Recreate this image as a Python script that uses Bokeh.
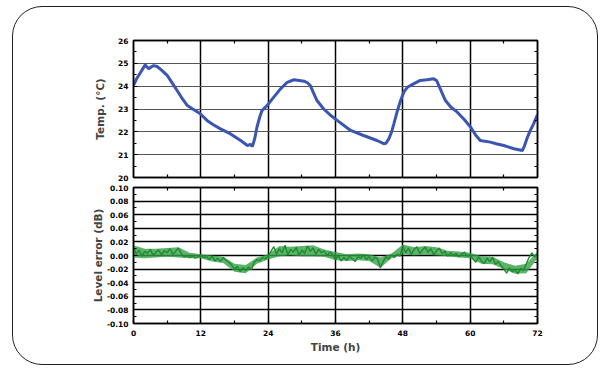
from bokeh.plotting import figure
from bokeh.layouts import column
from bokeh.models import FixedTicker, LinearAxis, PrintfTickFormatter, Range1d
from bokeh.embed import file_html
from bokeh.resources import INLINE

# ---------------- data ----------------
temp_time = [0, 0.5, 1.0, 1.5, 2.1, 2.7, 3.2, 3.6, 4.2, 5.0, 6.0, 7.0, 7.8, 8.7, 9.6,
             10.7, 11.9, 13.1, 14.3, 15.5, 17.3, 19.1, 20.3, 20.8, 21.2, 21.6, 22.0,
             22.5, 22.9, 23.8, 25.0, 26.2, 27.4, 28.6, 29.5, 30.4, 31.0, 31.5, 32.1,
             32.7, 33.9, 35.0, 36.3, 38.7, 41.0, 43.4, 44.6, 45.0, 45.5, 46.0, 46.4,
             47.0, 47.6, 48.2, 48.8, 49.9, 51.1, 52.3, 53.5, 54.0, 54.4, 55.0, 55.6,
             56.5, 57.7, 58.9, 60.1, 61.0, 61.8, 63.6, 64.8, 66.0, 67.8, 69.3, 69.7,
             70.2, 70.7, 71.3, 72.0]
temp_value = [24.03, 24.3, 24.5, 24.7, 24.93, 24.76, 24.85, 24.9, 24.86, 24.7, 24.47,
              24.1, 23.8, 23.45, 23.15, 22.98, 22.79, 22.5, 22.3, 22.13, 21.91, 21.62,
              21.4, 21.45, 21.36, 21.7, 22.2, 22.65, 22.93, 23.15, 23.52, 23.88, 24.17,
              24.28, 24.25, 24.22, 24.15, 24.03, 23.7, 23.37, 23.0, 22.75, 22.5, 22.06,
              21.84, 21.62, 21.48, 21.5, 21.69, 22.0, 22.35, 22.9, 23.37, 23.75, 23.95,
              24.1, 24.25, 24.28, 24.32, 24.25, 24.03, 23.7, 23.37, 23.1, 22.86, 22.55,
              22.2, 21.85, 21.62, 21.55, 21.47, 21.4, 21.26, 21.18, 21.4, 21.76, 22.05,
              22.35, 22.75]

err_time = [i * 0.5 for i in range(145)]
err_value = [
    0.012, 0.002, 0.008, -0.001, 0.006, 0.003, 0.009, 0.000, 0.005, 0.008, 0.001,
    0.007, 0.004, 0.010, 0.002, 0.006, 0.011,
    0.003, -0.002, 0.000, -0.003, -0.001, -0.004, -0.002, 0.000, -0.003, -0.002,
    -0.006, -0.001, -0.008, -0.004, -0.009, -0.003, -0.007, -0.010,
    -0.014, -0.020, -0.016, -0.024, -0.018, -0.022, -0.017, -0.021,
    -0.010, -0.006, -0.008, -0.003, -0.005, -0.001,
    0.006, 0.013, 0.002, 0.010, 0.004, 0.015, 0.001, 0.009, 0.005, 0.012, 0.000,
    0.008, 0.003, 0.014, 0.006, 0.011, 0.002, 0.009, 0.004, 0.007, 0.000, 0.005, 0.001,
    -0.006, 0.000, -0.008, -0.003, -0.007, -0.001, -0.005, -0.009, -0.002,
    -0.004, 0.001, -0.006, -0.002, -0.008, -0.003, -0.005, -0.018,
    -0.009, -0.002, -0.005, 0.001, -0.003, 0.002, -0.001,
    0.014, 0.004, 0.011, 0.002, 0.009, 0.013, 0.003, 0.008, 0.012, 0.005, 0.010,
    0.001, 0.007, 0.011, 0.003,
    0.006, -0.001, 0.004, 0.000, 0.003, -0.002, 0.002, 0.005, -0.001, 0.001,
    -0.005, -0.010, -0.002, -0.008, -0.012, -0.004, -0.009, -0.003,
    -0.013, -0.009, -0.015,
    -0.020, -0.026, -0.018, -0.024, -0.021, -0.027, -0.019, -0.022,
    -0.012, -0.003, 0.004, -0.002, 0.003,
]

# envelope of the noisy trace, every 2 h
band_time = [0, 2, 4, 6, 8, 10, 12, 14, 16, 18, 20, 22, 24, 26, 28, 30, 32, 34, 36,
             38, 40, 42, 44, 46, 48, 50, 52, 54, 56, 58, 60, 62, 64, 66, 68, 70, 72]
band_high = [0.015, 0.010, 0.010, 0.011, 0.012, 0.004, 0.002, 0.000, -0.002, -0.012,
             -0.014, -0.003, 0.002, 0.014, 0.013, 0.014, 0.015, 0.009, 0.005, 0.002,
             0.003, 0.002, -0.003, 0.003, 0.016, 0.012, 0.014, 0.012, 0.007, 0.006,
             0.004, -0.001, -0.002, -0.010, -0.015, -0.012, 0.006]
band_low = [-0.003, -0.004, -0.003, -0.002, -0.003, -0.004, -0.004, -0.009, -0.011,
            -0.024, -0.026, -0.012, -0.006, -0.001, 0.000, -0.001, -0.001, -0.002,
            -0.007, -0.008, -0.007, -0.008, -0.018, -0.004, 0.002, 0.000, 0.001, 0.000,
            -0.001, -0.003, -0.004, -0.012, -0.013, -0.020, -0.027, -0.026, -0.004]

x_ticks = [0, 12, 24, 36, 48, 60, 72]
x_minor = [6, 18, 30, 42, 54, 66]
temp_ticks = [20, 21, 22, 23, 24, 25, 26]
temp_minor = [20.5, 21.5, 22.5, 23.5, 24.5, 25.5]
err_ticks = [-0.10, -0.08, -0.06, -0.04, -0.02, 0.0, 0.02, 0.04, 0.06, 0.08, 0.10]
err_minor = [-0.09, -0.07, -0.05, -0.03, -0.01, 0.01, 0.03, 0.05, 0.07, 0.09]

FONT = "DejaVu Sans"
BLUE = "#3b55b3"
GREEN = "#34a045"
GREEN_DARK = "#1e8a32"


def style_axis(ax, show_labels):
    ax.axis_line_color = "black"
    ax.axis_line_width = 1.5
    ax.major_tick_in = 4
    ax.major_tick_out = 0
    ax.minor_tick_in = 3
    ax.minor_tick_out = 0
    ax.major_tick_line_color = "black"
    ax.minor_tick_line_color = "black"
    ax.major_tick_line_width = 1.2
    ax.minor_tick_line_width = 1.2
    ax.major_label_standoff = 5 if show_labels else 0
    if show_labels:
        ax.major_label_text_font = FONT
        ax.major_label_text_font_style = "bold"
        ax.major_label_text_font_size = "7.5px"
        ax.major_label_text_color = "black"


def make_fig(height, top, bottom, yr):
    p = figure(width=584, height=height, output_backend="svg", toolbar_location=None,
               x_range=Range1d(0, 72), y_range=Range1d(*yr),
               min_border_left=120, min_border_right=60,
               min_border_top=top, min_border_bottom=bottom,
               x_axis_location=None, y_axis_location=None)
    p.outline_line_color = "black"
    p.outline_line_width = 1.5
    p.background_fill_color = "white"
    p.border_fill_color = None
    return p


def add_frame_axes(p, y_ticks, y_minor, y_label, y_standoff, fmt=None, x_label=None):
    yt = FixedTicker(ticks=y_ticks, minor_ticks=y_minor)
    xt = FixedTicker(ticks=x_ticks, minor_ticks=x_minor)
    kw = {"formatter": fmt} if fmt is not None else {}
    left = LinearAxis(ticker=yt, axis_label=y_label, **kw)
    style_axis(left, True)
    left.axis_label_text_font = FONT
    left.axis_label_text_font_style = "bold"
    left.axis_label_text_font_size = "10.5px"
    left.axis_label_standoff = y_standoff
    p.add_layout(left, "left")
    # unlabeled mirror axes: minor ticks only, no label texts
    right = LinearAxis(ticker=FixedTicker(ticks=[], minor_ticks=y_minor))
    style_axis(right, False)
    p.add_layout(right, "right")
    top = LinearAxis(ticker=FixedTicker(ticks=[], minor_ticks=x_minor))
    style_axis(top, False)
    p.add_layout(top, "above")
    if x_label is None:
        bot = LinearAxis(ticker=FixedTicker(ticks=[], minor_ticks=x_minor))
        style_axis(bot, False)
    else:
        bot = LinearAxis(ticker=xt, axis_label=x_label)
        style_axis(bot, True)
        bot.major_label_standoff = 6
        bot.axis_label_text_font = FONT
        bot.axis_label_text_font_style = "bold"
        bot.axis_label_text_font_size = "10.5px"
        bot.axis_label_standoff = 2
    p.add_layout(bot, "below")
    p.xgrid.ticker = xt
    p.ygrid.ticker = yt


# ---------------- top: temperature ----------------
p1 = make_fig(175, 33, 5, (20, 26))
add_frame_axes(p1, temp_ticks, temp_minor, "Temp. (\u2103)", 9)
p1.xgrid.grid_line_color = "black"
p1.xgrid.grid_line_width = 1.5
p1.ygrid.grid_line_color = "#555555"
p1.ygrid.grid_line_width = 1.1
p1.line(temp_time, temp_value, line_color=BLUE, line_width=3)

# ---------------- bottom: level error ----------------
p2 = make_fig(182, 5, 41, (-0.1, 0.1))
add_frame_axes(p2, err_ticks, err_minor, "Level error (dB)", 0,
               fmt=PrintfTickFormatter(format="%.2f"), x_label="Time (h)")
p2.xgrid.grid_line_color = "black"
p2.xgrid.grid_line_width = 1.5
p2.ygrid.grid_line_color = "black"
p2.ygrid.grid_line_width = 1.6
p2.varea(x=band_time, y1=band_low, y2=band_high, fill_color=GREEN, fill_alpha=0.8)
p2.line(err_time, err_value, line_color=GREEN_DARK, line_width=1.4)

layout = column(p1, p2, margin=(6, 0, 0, 12),
                styles={"border": "1px solid #222", "border-radius": "30px",
                        "background": "white"})

open("out.html", "w").write(file_html(layout, INLINE))
